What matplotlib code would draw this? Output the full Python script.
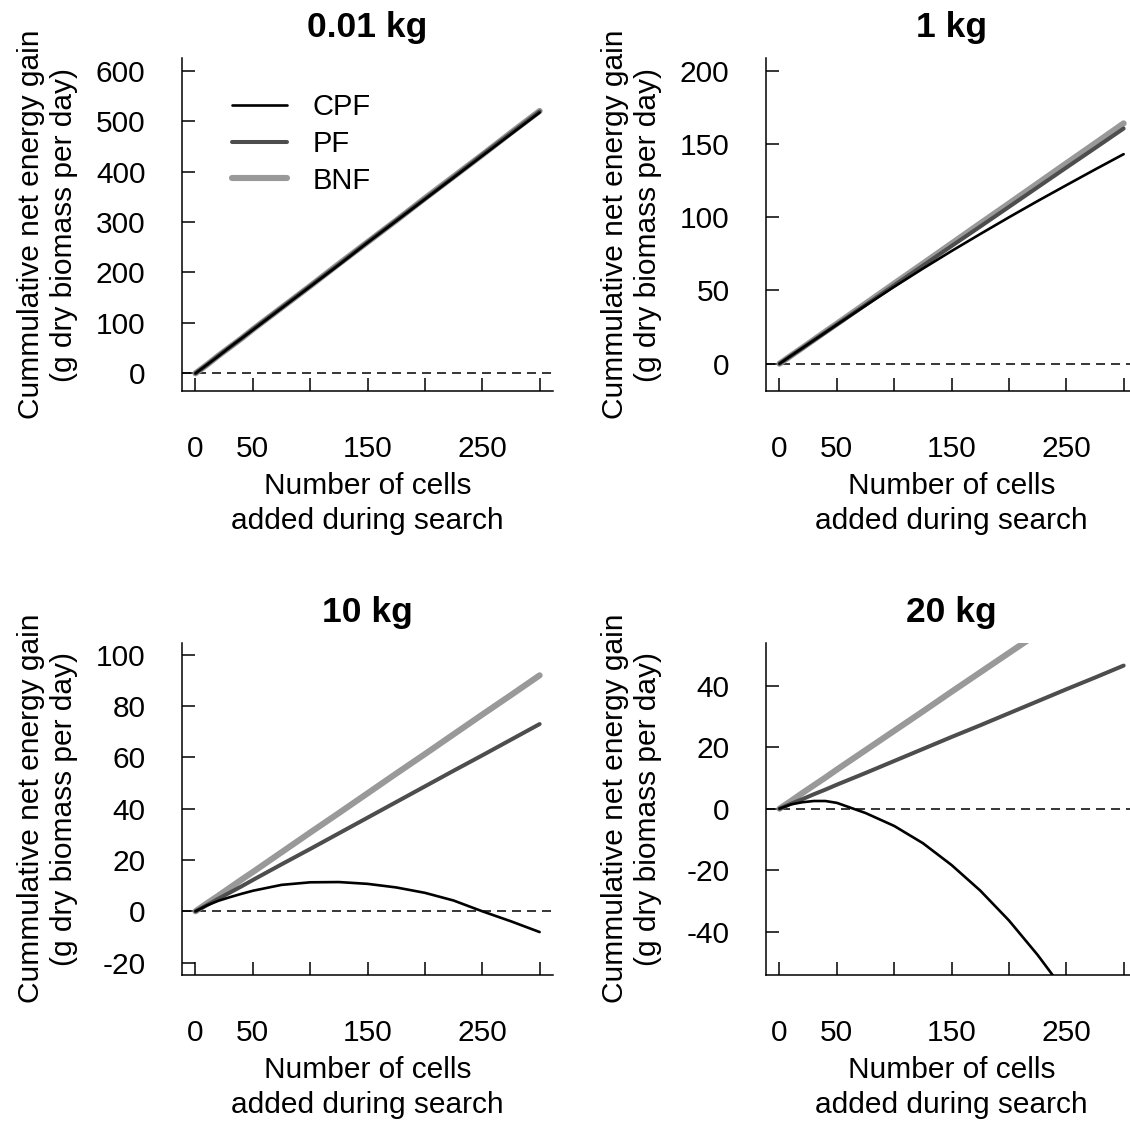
import matplotlib
matplotlib.use("Agg")
import matplotlib.pyplot as plt

plt.rcParams['font.family'] = ['Liberation Sans', 'DejaVu Sans']
plt.rcParams['axes.unicode_minus'] = False
plt.rcParams['lines.scale_dashes'] = False

# number of cells added during search
cells = [0, 10, 20, 30, 40, 50, 75, 100, 125, 150, 175, 200, 225, 250, 275, 300]

# 0.01 kg
cpf_001 = [0, 17, 34, 52, 69, 86, 129, 172, 215, 259, 302, 345, 388, 431, 474, 517]
pf_001 = [0, 17, 35, 52, 69, 87, 130, 173, 216, 260, 303, 346, 389, 433, 476, 519]
bnf_001 = [0, 17, 35, 52, 69, 87, 130, 173, 217, 260, 303, 347, 390, 433, 477, 520]

# 1 kg
cpf_1 = [0, 5.4, 10.7, 16.0, 21.3, 26.6, 39.7, 52.5, 64.9, 76.9, 88.5, 99.9, 111, 121.8, 132.5, 143]
pf_1 = [0, 5.4, 10.7, 16.1, 21.4, 26.8, 40.1, 53.5, 66.9, 80.3, 93.6, 107, 120.4, 133.8, 147.1, 160.5]
bnf_1 = [0, 5.5, 10.9, 16.4, 21.9, 27.3, 41, 54.7, 68.3, 82, 95.7, 109.3, 123, 136.7, 150.3, 164]

# 10 kg
cpf_10 = [0, 2.3, 4.1, 5.5, 6.8, 8.0, 10.3, 11.3, 11.4, 10.7, 9.3, 7.2, 4.2, 0.0, -3.9, -8.1]
pf_10 = [0, 2.4, 4.9, 7.3, 9.7, 12.2, 18.3, 24.3, 30.4, 36.5, 42.6, 48.7, 54.8, 60.8, 66.9, 73]
bnf_10 = [0, 3.1, 6.1, 9.2, 12.3, 15.3, 23, 30.7, 38.3, 46, 53.7, 61.3, 69, 76.7, 84.3, 92]

# 20 kg
cpf_20 = [0, 1.4, 2.1, 2.5, 2.5, 1.9, -1.4, -5.6, -11.2, -18.3, -26.6, -36.3, -47.5, -60, -73, -87]
pf_20 = [0, 1.6, 3.1, 4.7, 6.2, 7.8, 11.6, 15.5, 19.4, 23.3, 27.1, 31, 34.9, 38.8, 42.6, 46.5]
bnf_20 = [0, 2.5, 5.1, 7.6, 10.1, 12.7, 19, 25.3, 31.6, 38, 44.3, 50.6, 56.9, 63.3, 69.6, 75.9]

titles = ["0.01 kg", "1 kg", "10 kg", "20 kg"]
ylims = [(-10, 600), (-10, 200), (-20, 100), (-50, 50)]
yticks = [range(0, 601, 100), range(0, 201, 50), range(-20, 101, 20), range(-40, 41, 20)]
xticks = [0, 50, 100, 150, 200, 250, 300]
xticklabels = ["0", "50", "", "150", "", "250", ""]
series = [(cpf_001, pf_001, bnf_001), (cpf_1, pf_1, bnf_1),
          (cpf_10, pf_10, bnf_10), (cpf_20, pf_20, bnf_20)]

W, H = 1130, 1122
fig = plt.figure(figsize=(W / 100, H / 100), dpi=100)

# axes boxes in pixels: left, top
boxes = [(181.7, 58.3), (765.7, 58.3), (181.7, 642.5), (765.7, 642.5)]
aw, ah = 371.7, 332.4

fs = 21.5
for i in range(4):
    left, top = boxes[i]
    ax = fig.add_axes([left / W, 1 - (top + ah) / H, aw / W, ah / H])
    cpf, pf, bnf = series[i]

    ax.axhline(0, color="black", lw=1.1, dashes=(6.5, 4.3), zorder=1)
    ax.plot(cells, bnf, color="#999999", lw=4.4, solid_capstyle="round", label="BNF", zorder=2)
    ax.plot(cells, pf, color="#4d4d4d", lw=2.9, solid_capstyle="round", label="PF", zorder=3)
    ax.plot(cells, cpf, color="black", lw=1.9, solid_capstyle="round", label="CPF", zorder=4)

    lo, hi = ylims[i]
    r = (hi - lo) * 0.04
    ax.set_ylim(lo - r, hi + r)
    ax.set_xlim(-12, 312)
    ax.set_yticks(list(yticks[i]))
    ax.set_xticks(xticks)
    ax.set_xticklabels(xticklabels)

    for s in ["top", "right"]:
        ax.spines[s].set_visible(False)
    for s in ["left", "bottom"]:
        ax.spines[s].set_linewidth(1.1)
    ax.tick_params(axis="both", direction="in", length=9.6, width=1.1, labelsize=fs)
    ax.tick_params(axis="y", pad=26)
    ax.tick_params(axis="x", pad=32)

    ax.set_title(titles[i], fontsize=25.5, fontweight="bold", pad=15)
    ax.set_xlabel("Number of cells\nadded during search", fontsize=fs, linespacing=1.3)
    ax.xaxis.set_label_coords(0.5, -0.245)
    ax.set_ylabel("Cummulative net energy gain\n(g dry biomass per day)", fontsize=fs)
    ax.yaxis.set_label_coords(-0.28, 0.5)

    if i == 0:
        h, l = ax.get_legend_handles_labels()
        ax.legend(h[::-1], l[::-1], loc="upper left", bbox_to_anchor=(0.1345, 0.895),
                  frameon=False, fontsize=21, handlelength=1.88, handletextpad=0.9,
                  labelspacing=0.3, borderpad=0, borderaxespad=0)

fig.savefig("out.png", dpi=100)
